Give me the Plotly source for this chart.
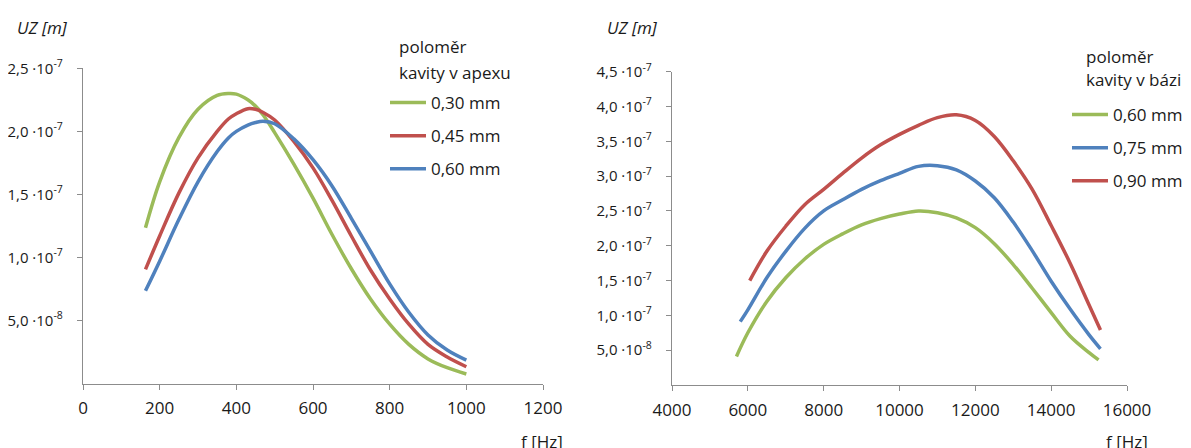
import plotly.graph_objects as go

# ---------------- data: left chart (cavity radius at apex) ----------------
f_apex = [163, 200, 250, 300, 350, 380, 400, 430, 450, 470, 500, 550, 600, 650, 700,
          750, 800, 850, 900, 950, 1000]
uz_apex_030 = [1.235e-7, 1.60e-7, 1.95e-7, 2.175e-7, 2.285e-7, 2.30e-7, 2.295e-7, 2.25e-7,
               2.20e-7, 2.13e-7, 1.99e-7, 1.74e-7, 1.47e-7, 1.18e-7, 0.91e-7,
               0.67e-7, 0.47e-7, 0.31e-7, 0.195e-7, 0.125e-7, 0.075e-7]
uz_apex_045 = [0.905e-7, 1.17e-7, 1.51e-7, 1.79e-7, 2.00e-7, 2.10e-7, 2.14e-7, 2.18e-7,
               2.175e-7, 2.15e-7, 2.09e-7, 1.92e-7, 1.71e-7, 1.45e-7, 1.17e-7,
               0.90e-7, 0.67e-7, 0.47e-7, 0.31e-7, 0.21e-7, 0.133e-7]
uz_apex_060 = [0.735e-7, 0.97e-7, 1.30e-7, 1.60e-7, 1.84e-7, 1.95e-7, 2.00e-7, 2.05e-7,
               2.07e-7, 2.08e-7, 2.06e-7, 1.94e-7, 1.775e-7, 1.565e-7, 1.31e-7,
               1.05e-7, 0.79e-7, 0.565e-7, 0.385e-7, 0.265e-7, 0.185e-7]
apex_names = ["0,30 mm", "0,45 mm", "0,60 mm"]

# ---------------- data: right chart (cavity radius at base) ----------------
f_base_060 = [5700, 6000, 6500, 7000, 7500, 8000, 8500, 9000, 9500, 10000, 10500, 11000,
              11500, 12000, 12500, 13000, 13500, 14000, 14500, 15000, 15250]
uz_base_060 = [0.41e-7, 0.75e-7, 1.20e-7, 1.54e-7, 1.81e-7, 2.02e-7, 2.17e-7, 2.30e-7,
               2.39e-7, 2.455e-7, 2.50e-7, 2.475e-7, 2.40e-7, 2.26e-7, 2.03e-7, 1.73e-7,
               1.39e-7, 1.04e-7, 0.70e-7, 0.465e-7, 0.36e-7]
f_base_075 = [5800, 6000, 6500, 7000, 7500, 8000, 8500, 9000, 9500, 10000, 10500, 11000,
              11500, 12000, 12500, 13000, 13500, 14000, 14500, 15000, 15300]
uz_base_075 = [0.91e-7, 1.08e-7, 1.54e-7, 1.92e-7, 2.25e-7, 2.50e-7, 2.66e-7, 2.81e-7,
               2.935e-7, 3.04e-7, 3.14e-7, 3.15e-7, 3.09e-7, 2.93e-7, 2.69e-7, 2.34e-7,
               1.93e-7, 1.49e-7, 1.09e-7, 0.72e-7, 0.52e-7]
f_base_090 = [6050, 6500, 7000, 7500, 8000, 8500, 9000, 9500, 10000, 10500, 11000, 11500,
              12000, 12500, 13000, 13500, 14000, 14500, 15000, 15300]
uz_base_090 = [1.50e-7, 1.92e-7, 2.28e-7, 2.59e-7, 2.81e-7, 3.04e-7, 3.26e-7, 3.45e-7,
               3.60e-7, 3.73e-7, 3.84e-7, 3.88e-7, 3.80e-7, 3.57e-7, 3.22e-7, 2.81e-7,
               2.29e-7, 1.75e-7, 1.15e-7, 0.79e-7]
base_names = ["0,60 mm", "0,75 mm", "0,90 mm"]

# ---------------- tick labels ----------------
x1_ticks = [0, 200, 400, 600, 800, 1000, 1200]
x1_text = ["0", "200", "400", "600", "800", "1000", "1200"]
x2_ticks = [4000, 6000, 8000, 10000, 12000, 14000, 16000]
x2_text = ["4000", "6000", "8000", "10000", "12000", "14000", "16000"]
y1_tickvals = [5e-8, 1e-7, 1.5e-7, 2e-7, 2.5e-7]
y1_ticktext = ["5,0 ·10<sup>-8</sup>", "1,0 ·10<sup>-7</sup>", "1,5 ·10<sup>-7</sup>",
               "2,0 ·10<sup>-7</sup>", "2,5 ·10<sup>-7</sup>"]
y2_tickvals = [5e-8, 1e-7, 1.5e-7, 2e-7, 2.5e-7, 3e-7, 3.5e-7, 4e-7, 4.5e-7]
y2_ticktext = ["5,0 ·10<sup>-8</sup>", "1,0 ·10<sup>-7</sup>", "1,5 ·10<sup>-7</sup>",
               "2,0 ·10<sup>-7</sup>", "2,5 ·10<sup>-7</sup>", "3,0 ·10<sup>-7</sup>",
               "3,5 ·10<sup>-7</sup>", "4,0 ·10<sup>-7</sup>", "4,5 ·10<sup>-7</sup>"]

GREEN = "#9BBB59"
RED = "#C0504D"
BLUE = "#4F81BD"
FONT = "Open Sans"
TXT = "#1a1a1a"
AX = "#8c8c8c"

# page body has an 8px margin: size the figure so it fills the window exactly
OFF = 8
W, H = 1191 - OFF, 448 - OFF


def px(x):  # screen x pixel -> paper fraction
    return (x - OFF) / W


def py(y):  # screen y pixel -> paper fraction
    return 1 - (y - OFF) / H


fig = go.Figure()
for x, y, name, col in [(f_apex, uz_apex_030, apex_names[0], GREEN),
                        (f_apex, uz_apex_045, apex_names[1], RED),
                        (f_apex, uz_apex_060, apex_names[2], BLUE)]:
    fig.add_trace(go.Scatter(x=x, y=y, name=name, mode="lines", line_shape="spline",
                             line=dict(color=col, width=3.5), xaxis="x", yaxis="y",
                             legend="legend", legendgroup=name))
for x, y, name, col in [(f_base_060, uz_base_060, base_names[0], GREEN),
                        (f_base_075, uz_base_075, base_names[1], BLUE),
                        (f_base_090, uz_base_090, base_names[2], RED)]:
    fig.add_trace(go.Scatter(x=x, y=y, name=name, mode="lines", line_shape="spline",
                             line=dict(color=col, width=3.5), xaxis="x2", yaxis="y2",
                             legend="legend2", legendgroup="b" + name))

axis_common = dict(showline=True, linecolor=AX, linewidth=1.3, ticks="outside",
                   ticklen=5, tickcolor=AX, tickwidth=1.3, showgrid=False, zeroline=False,
                   fixedrange=True)
xfont = dict(family=FONT, size=17, color=TXT)
yfont = dict(family=FONT, size=15, color=TXT)

ann_font = dict(family=FONT, size=17, color=TXT)


def label(text, x, y):
    return dict(text=text, x=px(x), y=py(y), xref="paper", yref="paper",
                xanchor="left", yanchor="middle", showarrow=False, font=ann_font)


fig.update_layout(
    width=W, height=H,
    margin=dict(l=0, r=0, t=0, b=0, autoexpand=False),
    paper_bgcolor="white", plot_bgcolor="white",
    font=dict(family=FONT, size=17, color=TXT),
    xaxis=dict(domain=[px(83), px(543)], range=[0, 1200], tickvals=x1_ticks,
               ticktext=x1_text, anchor="y", ticklabelstandoff=4, tickfont=xfont,
               **axis_common),
    yaxis=dict(domain=[py(383.5), py(68.3)], range=[0, 2.5e-7],
               tickvals=y1_tickvals, ticktext=y1_ticktext, anchor="x",
               ticklabelstandoff=11, tickfont=yfont, **axis_common),
    xaxis2=dict(domain=[px(672), px(1127)], range=[4000, 16000], tickvals=x2_ticks,
                ticktext=x2_text, anchor="y2", ticklabelstandoff=4, tickfont=xfont,
                **axis_common),
    yaxis2=dict(domain=[py(385), py(71.7)], range=[0, 4.5e-7],
                tickvals=y2_tickvals, ticktext=y2_ticktext, anchor="x2",
                ticklabelstandoff=11, tickfont=yfont, **axis_common),
    legend=dict(x=px(385), y=py(85), xanchor="left", yanchor="top", itemwidth=36,
                font=dict(size=17), tracegroupgap=8, bgcolor="rgba(0,0,0,0)"),
    legend2=dict(x=px(1067), y=py(97), xanchor="left", yanchor="top", itemwidth=36,
                 font=dict(size=17), tracegroupgap=8, bgcolor="rgba(0,0,0,0)"),
    annotations=[
        label("<i>UZ [m]</i>", 15, 28),
        label("<i>UZ [m]</i>", 605, 28),
        label("poloměr", 397, 47),
        label("kavity v apexu", 397, 72),
        label("poloměr", 1084, 56),
        label("kavity v bázi", 1084, 80),
        label("f [Hz]", 519, 441),
        label("f [Hz]", 1104, 441),
    ],
    showlegend=True,
)

fig.write_html("out.html")
